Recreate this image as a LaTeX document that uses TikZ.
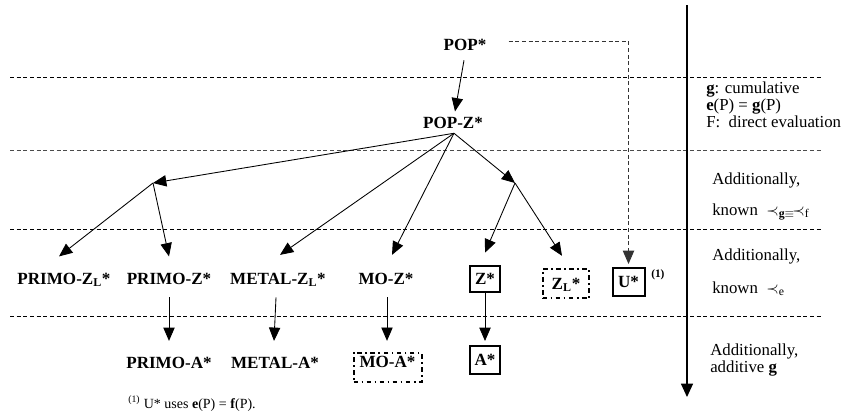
\documentclass[tikz,border=0pt]{standalone}
\usepackage{fontspec}
\setmainfont{Liberation Serif}
\usetikzlibrary{arrows.meta}

\begin{document}
\begin{tikzpicture}[x=0.75pt,y=-0.75pt,
  lbl/.style={font=\fontsize{12.8}{15}\selectfont\bfseries, inner sep=0pt,
    text height=8.5pt, text depth=0pt, anchor=base},
  boxed/.style={font=\fontsize{12.8}{15}\selectfont\bfseries, inner sep=0pt,
    text height=8.5pt, text depth=0pt, draw, line width=1.5pt, anchor=center},
  dashdot/.style={dash pattern=on 3.5pt off 2.5pt on 1.3pt off 2.5pt},
  note/.style={font=\fontsize{12.6}{15}\selectfont, inner sep=0pt, anchor=base west},
  tip/.style={-{Triangle[length=10pt,width=8.5pt]}, line width=0.65pt},
  level/.style={dash pattern=on 3pt off 2pt, line width=0.75pt},
  link/.style={dash pattern=on 3pt off 2pt, line width=0.65pt, black!80,
    -{Triangle[length=10pt,width=8.5pt]}},
]
\useasboundingbox (0,0) rectangle (845,415);

% level separators
\coordinate (l1a) at (10,77);  \coordinate (l1b) at (821,77);
\coordinate (l2a) at (10,150); \coordinate (l2b) at (821,150);
\coordinate (l3a) at (10,229); \coordinate (l3b) at (821,229);
\coordinate (l4a) at (10,316); \coordinate (l4b) at (821,316);
\draw[level] (l1a) -- (l1b);
\draw[level, black!70] (l2a) -- (l2b);
\draw[level] (l3a) -- (l3b);
\draw[level] (l4a) -- (l4b);

% vertical axis
\coordinate (axtop) at (687,5);
\coordinate (axbot) at (687,397);
\draw[line width=0.85pt, -{Triangle[length=10pt,width=9pt]}] (axtop) -- (axbot);

% nodes
\node[lbl] (pop)  at (465,50)  {POP*};
\node[lbl] (popz) at (453,128) {POP-Z*};

\node[lbl] (primozl) at (64,284)  {PRIMO-Z\textsubscript{L}*};
\node[lbl] (primoz)  at (169,284) {PRIMO-Z*};
\node[lbl] (metalzl) at (278,284) {METAL-Z\textsubscript{L}*};
\node[lbl] (moz)     at (386,284) {MO-Z*};
\node[boxed, minimum width=23pt, minimum height=20pt] (zbox) at (485,279) {Z*};
\node[boxed, dashdot, minimum width=35pt, minimum height=22pt] (zlbox) at (566,283.5) {Z\textsubscript{L}*};
\node[boxed, minimum width=24pt, minimum height=21pt] (ubox) at (628.5,282) {U*};
\node[font=\fontsize{8.5}{9}\selectfont\bfseries, inner sep=0pt, anchor=base west] (usup) at (651,277) {(1)};

\node[lbl] (primoa) at (169,368) {PRIMO-A*};
\node[lbl] (metala) at (275,368) {METAL-A*};
\node[boxed, dashdot, minimum width=51pt, minimum height=22pt, text depth=8.2pt] (moabox) at (387.5,367.5) {MO-A*};
\node[boxed, minimum width=23pt, minimum height=21pt] (abox) at (485,360) {A*};

% branch points
\coordinate (fan) at ([shift={(1,5)}]popz.south);
\coordinate (jl) at (153,183);
\coordinate (jr) at (515,183);

% connectors
\draw[tip] ([shift={(-1,10)}]pop.south) -- ([shift={(2,-5)}]popz.north);
\draw[tip] (fan) -- (jl);
\draw[tip] (fan) -- ([shift={(2,-17.5)}]metalzl.north);
\draw[tip] (fan) -- ([shift={(6,-17.5)}]moz.north);
\draw[tip] (fan) -- (jr);
\draw[tip] (jl) -- ([shift={(-5,-16)}]primozl.north);
\draw[tip] (jl) -- ([shift={(0,-16)}]primoz.north);
\draw[tip] (jr) -- ([shift={(0,-12)}]zbox.north);
\draw[tip] (jr) -- ([shift={(-4,-12)}]zlbox.north);

\draw[tip] ([shift={(0,13)}]primoz.south) -- ([shift={(0,-15.5)}]primoa.north);
\draw[tip] ([shift={(-2,13)}]metalzl.south) -- ([shift={(-1,-15.5)}]metala.north);
\draw[tip] ([shift={(1,13)}]moz.south) -- ([shift={(-0.5,-11)}]moabox.north);
\draw[tip] (zbox.south) -- ([shift={(0,-4)}]abox.north);

\draw[link] ([shift={(22,-3)}]pop.east) -| ([shift={(0,-3)}]ubox.north);

% right-hand annotations
\node[note] (n1a) at (706,93)  {\textbf{g}: cumulative};
\node[note] (n1b) at (706,110) {\textbf{e}(P) = \textbf{g}(P)};
\node[note] (n1c) at (706,127) {F:\ \ direct evaluation};

\node[note] (n2a) at (712,184) {Additionally,};
\node[note] (n2b) at (712,215) {known\ \ $\prec_{\mathbf{g}\equiv}\!\prec_{\mathrm{f}}$};

\node[note] (n3a) at (712,260) {Additionally,};
\node[note] (n3b) at (712,293) {known\ \ $\prec_{\mathrm{e}}$};

\node[note] (n4a) at (710,355) {Additionally,};
\node[note] (n4b) at (710,372) {additive \textbf{g}};

% footnote
\node[font=\fontsize{10.5}{12}\selectfont, inner sep=0pt, anchor=base west] (fn) at (128,408)
  {\textsuperscript{(1)} U* uses \textbf{e}(P) = \textbf{f}(P).};
\end{tikzpicture}
\end{document}
